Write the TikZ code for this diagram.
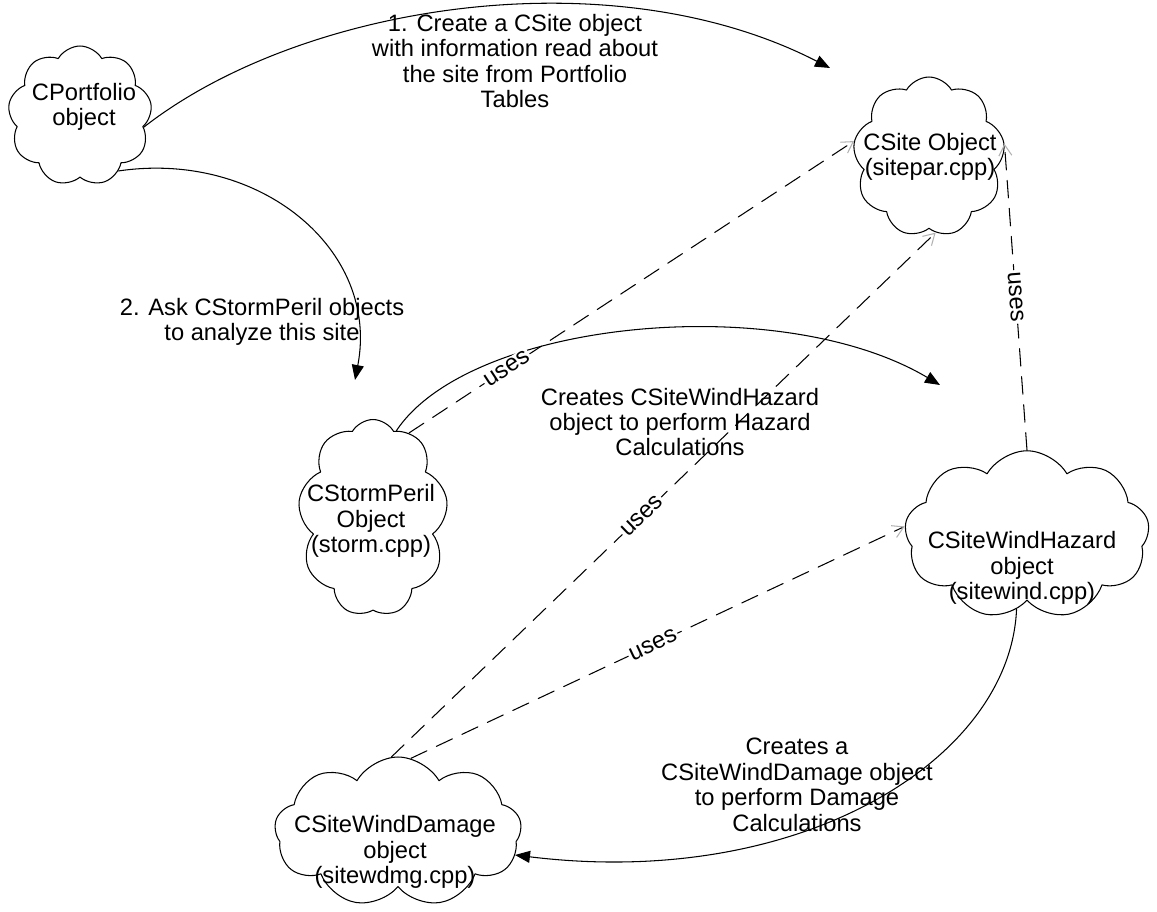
\documentclass[tikz,border=0pt]{standalone}
\usepackage{fontspec}
\setmainfont{Liberation Sans}
\usetikzlibrary{arrows.meta,shapes.symbols}

\begin{document}
\begin{tikzpicture}[x=0.02cm,y=-0.02cm,line cap=round,line join=round,
  obj/.style={draw,cloud,cloud puffs=9,cloud puff arc=120,cloud ignores aspect,inner sep=0pt,line width=0.6pt},
  objtext/.style={align=center,inner sep=0pt,font=\fontsize{13.5}{14.5}\selectfont},
  flow/.style={-{Triangle[length=3mm,width=2.4mm]},line width=0.6pt},
  uses/.style={-{Straight Barb[length=2.2mm,width=2.6mm,color=gray!60]},line width=0.6pt,dash pattern=on 10pt off 6pt},
  lbl/.style={align=center,font=\fontsize{13.5}{14.5}\selectfont},
  tag/.style={sloped,fill=white,inner sep=1pt,font=\fontsize{13.5}{14}\selectfont}]
\useasboundingbox (0,0) rectangle (1157,912);
% the objects
\node[obj,minimum width=2.88cm,minimum height=2.8cm] (port) at (80,116) {};
\node[objtext] (porttext) at (84,107) {CPortfolio\\object};
\node[obj,minimum width=3.04cm,minimum height=3.2cm] (site) at (929,157) {};
\node[objtext] (sitetext) at (930,157) {CSite Object\\(sitepar.cpp)};
\node[obj,minimum width=3.0cm,minimum height=3.94cm] (storm) at (373,518) {};
\node[objtext] (stormtext) at (371,521) {CStormPeril\\Object\\(storm.cpp)};
\node[obj,minimum width=4.9cm,minimum height=3.37cm] (hazard) at (1027,535) {};
\node[objtext] (hazardtext) at (1022,568) {CSiteWindHazard\\object\\(sitewind.cpp)};
\node[obj,minimum width=4.94cm,minimum height=3.0cm] (damage) at (398,832) {};
\node[objtext] (damagetext) at (395,852) {CSiteWindDamage\\object\\(sitewdmg.cpp)};
% messages
\node[lbl] (step1) at (515,61) {1. Create a CSite object\\with information read about\\the site from Portfolio\\Tables};
\node[lbl] (step2) at (262,322) {2. Ask CStormPeril objects\\to analyze this site};
\node[lbl] (mkhazard) at (680,422) {Creates CSiteWindHazard\\object to perform Hazard\\Calculations};
\node[lbl] (mkdamage) at (797,785) {Creates a\\CSiteWindDamage object\\to perform Damage\\Calculations};
\coordinate (t1) at (830,68);
\coordinate (t2) at (355,380);
\coordinate (t3) at (940,385);
\coordinate (t4) at (515,855);
\draw[flow] (port.-10) .. controls (300,5) and (610,-45) .. (t1);
\draw[flow] (port.-55) .. controls (260,150) and (380,250) .. (t2);
\draw[flow] (storm.75) .. controls (470,320) and (780,290) .. (t3);
\draw[flow] (hazard.-98) .. controls (1010,760) and (800,890) .. (t4);
% dependencies
\draw[uses] (storm.67) -- node[tag,pos=0.22] {uses} (site.168);
\draw[uses] (damage.95) -- node[tag,pos=0.46] {uses} (site.-85);
\draw[uses] (damage.80) -- node[tag,pos=0.49] {uses} (hazard.176);
\draw[uses] (hazard.north) -- node[tag,pos=0.5] {uses} (site.10);
\end{tikzpicture}
\end{document}
